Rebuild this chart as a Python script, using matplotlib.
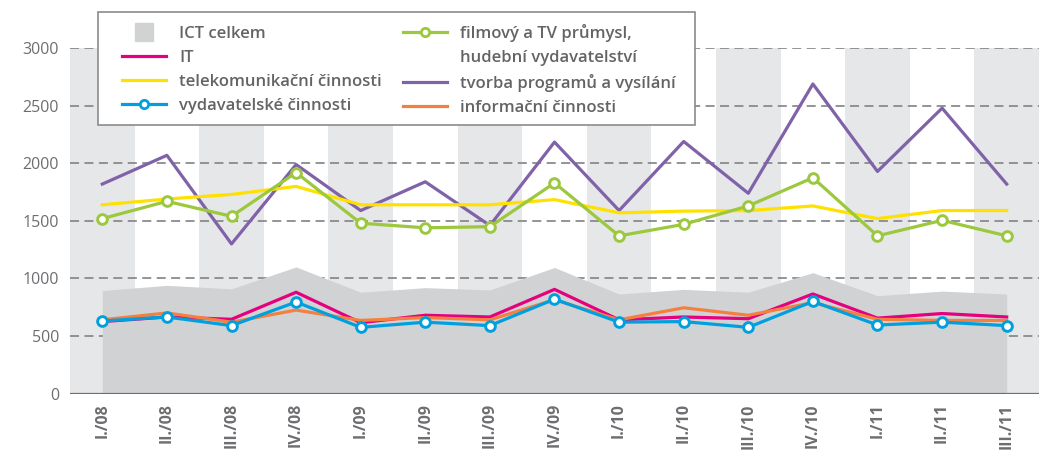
import matplotlib
matplotlib.use("Agg")
import matplotlib.pyplot as plt
from matplotlib.lines import Line2D
from matplotlib.patches import Rectangle
import numpy as np

plt.rcParams['font.family'] = ['Open Sans', 'DejaVu Sans']

categories = ['I./08', 'II./08', 'III./08', 'IV./08', 'I./09', 'II./09', 'III./09', 'IV./09',
              'I./10', 'II./10', 'III./10', 'IV./10', 'I./11', 'II./11', 'III./11']
ict_celkem = [895, 940, 910, 1100, 880, 920, 900, 1095, 865, 905, 880, 1050, 850, 890, 865]
it_vals = [625, 665, 645, 880, 615, 680, 665, 905, 640, 665, 650, 865, 655, 695, 665]
telekom = [1640, 1690, 1730, 1800, 1640, 1640, 1640, 1685, 1570, 1585, 1590, 1630, 1520, 1590, 1590]
vydavatelske = [630, 665, 590, 795, 575, 620, 590, 820, 620, 625, 575, 800, 595, 620, 590]
filmovy = [1520, 1670, 1540, 1920, 1480, 1440, 1450, 1830, 1370, 1470, 1630, 1875, 1370, 1505, 1370]
tvorba = [1820, 2070, 1300, 1990, 1590, 1840, 1460, 2185, 1590, 2190, 1740, 2690, 1930, 2480, 1820]
informacni = [640, 700, 620, 725, 635, 660, 640, 815, 640, 745, 680, 790, 645, 635, 635]
y_ticks = [0, 500, 1000, 1500, 2000, 2500, 3000]

C_AREA = '#d1d2d4'
C_BAND = '#e6e7e8'
C_IT = '#e5007e'
C_TEL = '#ffe100'
C_VYD = '#00a0df'
C_FILM = '#9bc83c'
C_TV = '#8062a9'
C_INF = '#f5803e'
C_TEXT = '#6d6e71'

W, H = 1045, 451
fig = plt.figure(figsize=(W / 100, H / 100), dpi=100)
ax = fig.add_axes([70 / W, 1 - 393.5 / H, 969 / W, (393.5 - 48.3) / H])

x = np.arange(len(categories))
ax.set_xlim(-0.5, len(categories) - 0.5)
ax.set_ylim(0, 3000)

for i in range(0, len(categories), 2):
    ax.axvspan(i - 0.5, i + 0.5, color=C_BAND, lw=0, zorder=0)
for yv in y_ticks[1:]:
    ax.axhline(yv, color='#8a8b8d', lw=1.3, ls=(0, (5, 3)), zorder=1)
ax.fill_between(x, ict_celkem, 0, color=C_AREA, lw=0, zorder=2)
ax.axhline(0, color='#6d6e71', lw=1.6, zorder=3)

lw = 2.3
ax.plot(x, tvorba, color=C_TV, lw=lw, zorder=4)
ax.plot(x, telekom, color=C_TEL, lw=lw, zorder=4)
ax.plot(x, it_vals, color=C_IT, lw=lw, zorder=5)
ax.plot(x, informacni, color=C_INF, lw=lw, zorder=5)
mk = dict(marker='o', mfc='white', ms=7, mew=2.1)
ax.plot(x, vydavatelske, color=C_VYD, lw=lw, mec=C_VYD, zorder=6, **mk)
ax.plot(x, filmovy, color=C_FILM, lw=lw, mec=C_FILM, zorder=6, **mk)

for s in ax.spines.values():
    s.set_visible(False)
ax.set_yticks(y_ticks)
ax.set_yticklabels([str(v) for v in y_ticks])
ax.set_xticks(x)
ax.set_xticklabels(categories, rotation=90, fontweight='bold')
ax.tick_params(axis='y', length=0, pad=8, labelsize=11.5, labelcolor=C_TEXT)
ax.tick_params(axis='x', length=0, pad=7, labelsize=11.5, labelcolor=C_TEXT)

# legend
lmk = dict(marker='o', mfc='white', ms=6, mew=2)
handles = [
    Line2D([], [], ls='none', marker='s', ms=13, mfc=C_AREA, mec=C_AREA),
    Line2D([], [], color=C_IT, lw=lw),
    Line2D([], [], color=C_TEL, lw=lw),
    Line2D([], [], color=C_VYD, lw=lw, mec=C_VYD, **lmk),
    Line2D([], [], color=C_FILM, lw=lw, mec=C_FILM, **lmk),
    Line2D([], [], alpha=0),
    Line2D([], [], color=C_TV, lw=lw),
    Line2D([], [], color=C_INF, lw=lw),
]
labels = ['ICT celkem', 'IT', 'telekomunikační činnosti', 'vydavatelské činnosti',
          'filmový a TV průmysl,', 'hudební vydavatelství', 'tvorba programů a vysílání',
          'informační činnosti']
fig.add_artist(Rectangle((97.5 / W, 1 - 125 / H), (695 - 97.5) / W, (125 - 11.7) / H,
                         transform=fig.transFigure, facecolor='white', edgecolor='#8a8b8d',
                         lw=1.2, zorder=4))
fs = 12
leg = fig.legend(handles, labels, loc='upper left', bbox_to_anchor=(122 / W, 1 - 24 / H),
                 frameon=False, ncol=2, borderpad=0, borderaxespad=0,
                 handlelength=31.7 / fs, handletextpad=9.4 / fs,
                 columnspacing=15 / fs, labelspacing=0.48, numpoints=1,
                 prop={'size': fs, 'weight': 'semibold'})
leg.set_zorder(5)
for t in leg.get_texts():
    t.set_color('#636466')

fig.savefig('out.png', dpi=100)
